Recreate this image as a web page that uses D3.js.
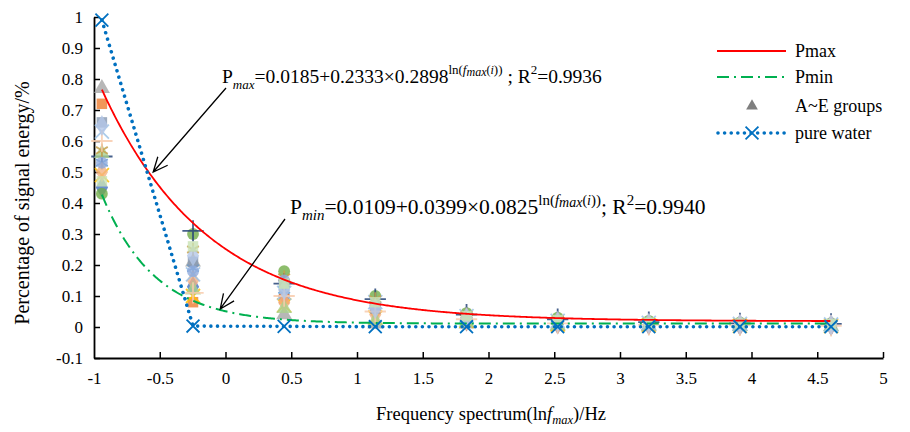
<!DOCTYPE html>
<html>
<head>
<meta charset="utf-8">
<script src="https://cdn.jsdelivr.net/npm/d3@7"></script>
<style>
  body { margin: 0; background: #fff; }
  svg { display: block; }
</style>
</head>
<body>
<svg id="chart" width="910" height="432"></svg>
<script>
// ln(f_max) positions of the measured frequency bands
const lnFreq = [-0.94, -0.247, 0.446, 1.139, 1.833, 2.526, 3.219, 3.912, 4.605];

// pure water reference
const pureWater = [0.99, 0.003, 0.002, 0.001, 0.001, 0.001, 0.001, 0.001, 0.001];

// A~E sample groups (one row per specimen)
const groupNames = ["A1", "A2", "A3", "A4", "B1", "B2", "B3", "C1", "C2", "C3", "D1", "D2", "D3", "E1", "E2", "E3"];
const groupA1 = [0.45, 0.13, 0.10, 0.05, 0.020, 0.010, 0.008, 0.006, 0.005];
const groupA2 = [0.72, 0.08, 0.09, 0.06, 0.030, 0.015, 0.010, 0.008, 0.006];
const groupA3 = [0.77, 0.21, 0.04, 0.01, 0.010, 0.003, 0.002, 0.002, 0.001];
const groupA4 = [0.49, 0.10, 0.07, 0.03, 0.020, 0.008, 0.005, 0.004, 0.003];
const groupB1 = [0.53, 0.19, 0.12, 0.07, 0.035, 0.020, 0.012, 0.009, 0.007];
const groupB2 = [0.43, 0.30, 0.18, 0.10, 0.045, 0.030, 0.020, 0.015, 0.012];
const groupB3 = [0.55, 0.31, 0.14, 0.09, 0.040, 0.025, 0.016, 0.012, 0.010];
const groupC1 = [0.50, 0.15, 0.08, 0.04, 0.020, 0.012, 0.008, 0.006, 0.005];
const groupC2 = [0.66, 0.21, 0.13, 0.06, 0.030, 0.018, 0.011, 0.008, 0.007];
const groupC3 = [0.56, 0.12, 0.06, 0.02, 0.015, 0.005, 0.004, 0.003, 0.002];
const groupD1 = [0.63, 0.17, 0.11, 0.08, 0.035, 0.020, 0.013, 0.010, 0.008];
const groupD2 = [0.57, 0.25, 0.16, 0.09, 0.040, 0.025, 0.017, 0.013, 0.010];
const groupD3 = [0.53, 0.18, 0.15, 0.07, 0.030, 0.015, 0.010, 0.008, 0.006];
const groupE1 = [0.60, 0.11, 0.10, 0.05, 0.025, 0.012, 0.007, 0.005, 0.004];
const groupE2 = [0.65, 0.23, 0.12, 0.06, 0.030, 0.018, 0.012, 0.009, 0.007];
const groupE3 = [0.47, 0.26, 0.14, 0.08, 0.035, 0.022, 0.014, 0.011, 0.009];
const groupValues = [groupA1, groupA2, groupA3, groupA4, groupB1, groupB2, groupB3,
                     groupC1, groupC2, groupC3, groupD1, groupD2, groupD3, groupE1, groupE2, groupE3];

// fitted curves: P = a + b * c^ln(f_max)
const pmaxCoef = [0.0185, 0.2333, 0.2898];
const pminCoef = [0.0109, 0.0399, 0.0825];

const xTicks = [-1, -0.5, 0, 0.5, 1, 1.5, 2, 2.5, 3, 3.5, 4, 4.5, 5];
const yTicks = [-0.1, 0, 0.1, 0.2, 0.3, 0.4, 0.5, 0.6, 0.7, 0.8, 0.9, 1];
const legendLabels = ["Pmax", "Pmin", "A~E groups", "pure water"];

const FONT = "Liberation Serif";
const svg = d3.select("#chart");
const x = d3.scaleLinear().domain([-1, 5]).range([94, 883]);
const y = d3.scaleLinear().domain([-0.1, 1]).range([358, 17]);
const fmt = d => String(+d.toFixed(1));

// axes with inward ticks
const gy = svg.append("g").attr("transform", `translate(${x(-1)},0)`)
  .call(d3.axisLeft(y).tickValues(yTicks).tickSizeInner(-6).tickSizeOuter(0).tickPadding(11).tickFormat(fmt));
const gx = svg.append("g").attr("transform", `translate(0,${y(-0.1)})`)
  .call(d3.axisBottom(x).tickValues(xTicks).tickSizeInner(-6).tickSizeOuter(0).tickPadding(14).tickFormat(fmt));
[gx, gy].forEach(g => {
  g.attr("font-family", FONT).attr("font-size", 17);
  g.selectAll("text").attr("font-size", 17).attr("fill", "#000");
  g.selectAll("line").attr("stroke", "#000").attr("stroke-width", 1.5);
  g.select(".domain").attr("stroke", "#000").attr("stroke-width", 1.8);
});
gx.selectAll(".tick").filter(d => d === -1).select("line").remove();

// axis titles
const xt = svg.append("text").attr("x", 491).attr("y", 420).attr("text-anchor", "middle").attr("font-size", 18.5);
xt.append("tspan").text("Frequency spectrum(ln");
xt.append("tspan").attr("font-style", "italic").text("f");
xt.append("tspan").attr("font-style", "italic").attr("font-size", 12.5).attr("dy", 4).text("max");
xt.append("tspan").attr("dy", -4).text(")/Hz");

svg.append("text").attr("transform", "translate(29,203) rotate(-90)")
  .attr("text-anchor", "middle").attr("font-size", 20).text("Percentage of signal energy/%");

// fitted curves
const fitX = d3.range(lnFreq[0], lnFreq[lnFreq.length - 1] + 1e-9, 0.01);
const fit = c => t => c[0] + c[1] * Math.pow(c[2], t);
const curve = d3.line().x(d => x(d[0])).y(d => y(d[1]));

// scatter markers of the sample groups
const markerColors = ["#4472C4", "#ED7D31", "#A5A5A5", "#FFC000", "#5B9BD5", "#70AD47", "#264478", "#F4B183",
                      "#8497B0", "#A9D18E", "#9DC3E6", "#C5A04C", "#8FAADC", "#F8CBAD", "#B4C7E7", "#C9E2B4"];
const symX = d3.symbolTimes || d3.symbolX || d3.symbolCross;
const symAst = d3.symbolAsterisk || d3.symbolCross;
const symPlus = d3.symbolPlus || d3.symbolCross;
const markerTypes = [
  { s: d3.symbolDiamond, stroke: false, size: 130 },
  { s: d3.symbolSquare, stroke: false, size: 110 },
  { s: d3.symbolTriangle, stroke: false, size: 110 },
  { s: symX, stroke: true, size: 130 },
  { s: symAst, stroke: true, size: 130 },
  { s: d3.symbolCircle, stroke: false, size: 110 },
  { s: symPlus, stroke: true, size: 150 }
];

const scatter = svg.append("g");
groupValues.forEach((vals, i) => {
  const m = markerTypes[i % markerTypes.length];
  const col = markerColors[i];
  scatter.append("g").attr("class", "grp-" + groupNames[i])
    .selectAll("path").data(vals).join("path")
    .attr("transform", (d, j) => `translate(${x(lnFreq[j])},${y(d)})`)
    .attr("d", d3.symbol(m.s, m.size))
    .attr("fill", m.stroke ? "none" : col)
    .attr("fill-opacity", 0.8)
    .attr("stroke", m.stroke ? col : "none")
    .attr("stroke-width", 1.8)
    .attr("stroke-opacity", 0.85);
});

svg.append("path").datum(fitX.map(t => [t, fit(pmaxCoef)(t)]))
  .attr("d", curve).attr("fill", "none").attr("stroke", "#FF0000").attr("stroke-width", 1.8);
svg.append("path").datum(fitX.map(t => [t, fit(pminCoef)(t)]))
  .attr("d", curve).attr("fill", "none").attr("stroke", "#00B050").attr("stroke-width", 2)
  .attr("stroke-dasharray", "12 5 2 5");

// pure water: dotted line with cross markers
const water = lnFreq.map((t, i) => [t, pureWater[i]]);
svg.append("path").datum(water).attr("d", curve).attr("fill", "none")
  .attr("stroke", "#0070C0").attr("stroke-width", 3.6).attr("stroke-linecap", "round")
  .attr("stroke-dasharray", "0.01 6.6");
svg.append("g").selectAll("path").data(water).join("path")
  .attr("transform", d => `translate(${x(d[0])},${y(d[1])})`)
  .attr("d", d3.symbol(symX, 110)).attr("fill", "none")
  .attr("stroke", "#0070C0").attr("stroke-width", 1.8);

// annotation arrows
function arrow(x1, y1, x2, y2) {
  const a = Math.atan2(y2 - y1, x2 - x1), L = 16, w = 0.42;
  svg.append("path").attr("fill", "none").attr("stroke", "#000").attr("stroke-width", 1.3)
    .attr("d", `M${x1},${y1}L${x2},${y2}` +
      `M${x2 - L * Math.cos(a - w)},${y2 - L * Math.sin(a - w)}L${x2},${y2}` +
      `L${x2 - L * Math.cos(a + w)},${y2 - L * Math.sin(a + w)}`);
}
arrow(226, 88, x(-0.55), y(0.5));
arrow(285, 219, x(-0.04), y(fit(pminCoef)(-0.04)) - 1);

// formula labels
function formula(px, py, sub, a, b, c, r2, gap, fs, sfs) {
  const t = svg.append("text").attr("x", px).attr("y", py).attr("font-size", fs);
  t.append("tspan").text("P");
  t.append("tspan").attr("font-style", "italic").attr("font-size", sfs).attr("dy", 6).text(sub);
  t.append("tspan").attr("dy", -6).text(`=${a}+${b}×${c}`);
  t.append("tspan").attr("font-size", sfs).attr("dy", -9).text("ln(");
  t.append("tspan").attr("font-size", sfs).attr("font-style", "italic").text("f");
  t.append("tspan").attr("font-size", sfs - 1).attr("font-style", "italic").attr("dy", 2).text("max");
  t.append("tspan").attr("font-size", sfs - 1).attr("dy", -2).text("(");
  t.append("tspan").attr("font-size", sfs - 1).attr("font-style", "italic").text("i");
  t.append("tspan").attr("font-size", sfs).text("))");
  t.append("tspan").attr("dy", 9).text(gap + "; R");
  t.append("tspan").attr("font-size", sfs).attr("dy", -9).text("2");
  t.append("tspan").attr("dy", 9).text("=" + r2);
}
formula(222, 83, "max", "0.0185", "0.2333", "0.2898", "0.9936", " ", 19.5, 13);
formula(290, 214, "min", "0.0109", "0.0399", "0.0825", "0.9940", "", 21.5, 15);

// legend
const lg = svg.append("g");
const ly = [51, 77, 106, 133];
lg.append("line").attr("x1", 717).attr("x2", 786).attr("y1", ly[0]).attr("y2", ly[0])
  .attr("stroke", "#FF0000").attr("stroke-width", 1.8);
lg.append("line").attr("x1", 717).attr("x2", 786).attr("y1", ly[1]).attr("y2", ly[1])
  .attr("stroke", "#00B050").attr("stroke-width", 2).attr("stroke-dasharray", "12 5 2 5");
lg.append("path").attr("transform", `translate(752,${ly[2]})`).attr("d", d3.symbol(d3.symbolTriangle, 60))
  .attr("fill", "#7F7F7F");
lg.append("line").attr("x1", 718).attr("x2", 786).attr("y1", ly[3]).attr("y2", ly[3])
  .attr("stroke", "#0070C0").attr("stroke-width", 3.6).attr("stroke-linecap", "round").attr("stroke-dasharray", "0.01 6.6");
lg.append("path").attr("transform", `translate(752,${ly[3]})`).attr("d", d3.symbol(symX, 110))
  .attr("fill", "none").attr("stroke", "#0070C0").attr("stroke-width", 1.8);
lg.selectAll("text").data(legendLabels).join("text")
  .attr("x", 795).attr("y", (d, i) => ly[i] + 6).attr("font-size", 18).text(d => d);

// serif typeface throughout
svg.attr("font-family", FONT);
svg.selectAll("text").attr("font-family", FONT).style("font-family", FONT).style("fill", "#000");
</script>
</body>
</html>
